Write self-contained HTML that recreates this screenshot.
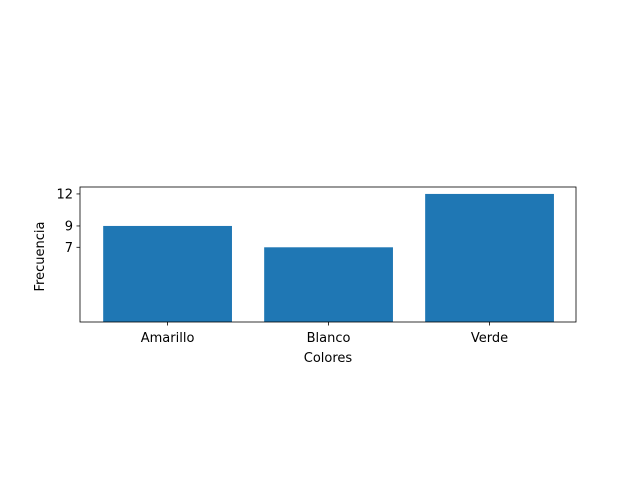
<!DOCTYPE html>
<html><head><meta charset="utf-8"><style>
body{margin:0;background:#fff;}
svg text{font-family:"DejaVu Sans","Liberation Sans",sans-serif;font-size:13px;fill:#000;}
</style></head><body>
<svg id="chart" width="640" height="480" xmlns="http://www.w3.org/2000/svg">
<rect width="640" height="480" fill="#fff"/>
<g id="bars"></g>
<g id="axes"></g>
</svg>
<script>
const categories = ["Amarillo","Blanco","Verde"];
const values = [9,7,12];
const yTicks = [7,9,12];
const xLabel = "Colores";
const yLabel = "Frecuencia";

const L=80,R=576,T=187,B=322;
const yMax=12.65;
const xMin=-0.544,xMax=2.537;
const sx=v=>L+(v-xMin)/(xMax-xMin)*(R-L);
const sy=v=>B-v/yMax*(B-T);
const NS="http://www.w3.org/2000/svg";
const bars=document.getElementById('bars');
const axes=document.getElementById('axes');
function mk(tag,attrs,parent){const e=document.createElementNS(NS,tag);for(const k in attrs)e.setAttribute(k,attrs[k]);parent.appendChild(e);return e;}
categories.forEach((c,i)=>{
  const x0=sx(i-0.4),x1=sx(i+0.4);
  const r=mk('rect',{x:x0,y:sy(values[i]),width:x1-x0,height:B-sy(values[i]),fill:'#1f77b4'},bars);
  
  
  mk('line',{x1:sx(i),x2:sx(i),y1:B,y2:B+3.5,stroke:'#000','stroke-width':0.8},axes);
  const t=mk('text',{x:sx(i),y:B+20,'text-anchor':'middle'},axes);
  t.textContent=c;
  
  
});
yTicks.forEach(v=>{
  mk('line',{x1:L-3.5,x2:L,y1:sy(v),y2:sy(v),stroke:'#000','stroke-width':0.8},axes);
  const t=mk('text',{x:L-7,y:sy(v)+4.5,'text-anchor':'end'},axes);
  t.textContent=v;
  
  
});
const frame=mk('rect',{x:L,y:T,width:R-L,height:B-T,fill:'none',stroke:'#000','stroke-width':0.8},axes);


const xl=mk('text',{x:(L+R)/2,y:362,'text-anchor':'middle'},axes);
xl.textContent=xLabel;


const yl=mk('text',{x:44,y:(T+B)/2+2,'text-anchor':'middle',transform:'rotate(-90 44 '+((T+B)/2+2)+')'},axes);
yl.textContent=yLabel;


</script>
</body></html>
